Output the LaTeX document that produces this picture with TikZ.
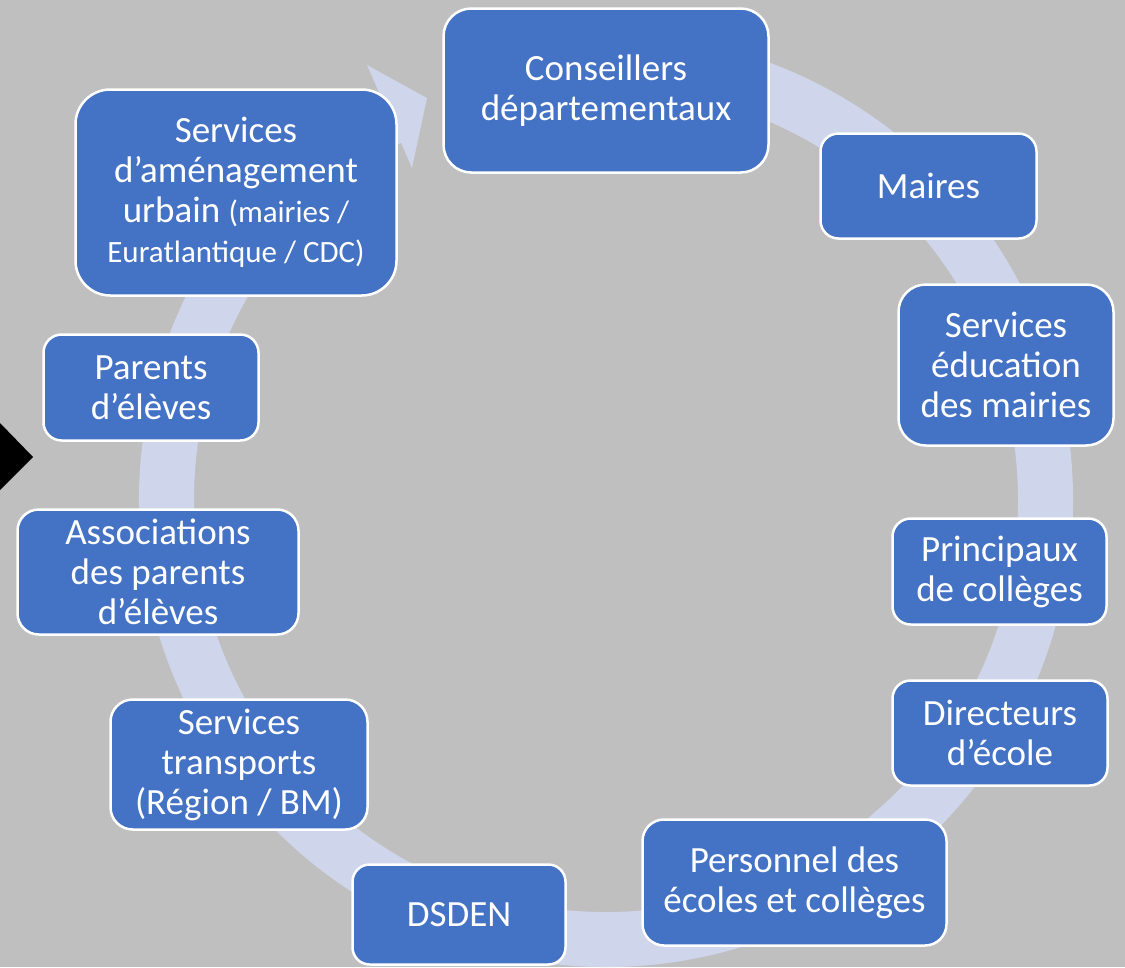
\documentclass[tikz,border=0pt]{standalone}
\usepackage{fontspec}
\setmainfont{Carlito}
\definecolor{bg}{RGB}{191,191,191}
\definecolor{ring}{RGB}{207,213,234}
\definecolor{boxblue}{HTML}{4472C4}
\tikzset{
  box/.style={draw=white, line width=2.5pt, fill=boxblue, text=white, align=center,
    font=\fontsize{37}{40}\selectfont, inner sep=0pt},
  ringfill/.style={fill=ring, draw=none},
}
\newcommand{\smalltxt}{\fontsize{31}{40}\selectfont}
\begin{document}
\begin{tikzpicture}[x=1pt,y=-1pt]
\useasboundingbox (0,0) rectangle (1125,967);
\fill[bg] (0,0) rectangle (1125,967);
% circular arrow
\coordinate (c) at (606,500);
\fill[ring] (c) ++(-118.5:467) arc[start angle=-118.5, end angle=-455, radius=467]
  -- ++(-275:55) arc[start angle=-455, end angle=-118.5, radius=412] -- cycle;
\coordinate (hout) at (367,65);
\coordinate (htip) at (427,98);
\coordinate (hin) at (412,168);
\fill[ring] (hout) -- (htip) -- (hin) -- cycle;
% boxes
\node[box, minimum width=325, minimum height=164, rounded corners=27.8] (cons) at (606,90.5) {Conseillers\\départementaux};
\node[box, minimum width=216, minimum height=105, rounded corners=18] (maires) at (928.5,186) {Maires};
\node[box, minimum width=215, minimum height=161, rounded corners=27.3] (educ) at (1006,365) {Services\\éducation\\des mairies};
\node[box, minimum width=214, minimum height=106, rounded corners=18.2] (princ) at (999.5,571.5) {Principaux\\de collèges};
\node[box, minimum width=215, minimum height=105, rounded corners=18] (dir) at (1000,733) {Directeurs\\d’école};
\node[box, minimum width=304, minimum height=126, rounded corners=21.5] (pers) at (794.5,882.5) {Personnel des\\écoles et collèges};
\node[box, minimum width=213, minimum height=100, rounded corners=17.2] (dsden) at (459,914.5) {DSDEN};
\node[box, minimum width=257, minimum height=130, rounded corners=22.2] (transp) at (239,764.5) {Services\\transports\\(Région / BM)};
\node[box, minimum width=281, minimum height=125, rounded corners=21.3] (assoc) at (158,572) {Associations\\des parents\\d’élèves};
\node[box, minimum width=215, minimum height=106, rounded corners=18.2] (parents) at (151,387.5) {Parents\\d’élèves};
\node[box, minimum width=321, minimum height=206, rounded corners=34.8] (amen) at (236,192.5) {Services\\d’aménagement\\urbain {\smalltxt (mairies /}\\{\smalltxt Euratlantique / CDC)}};
% black marker at left edge
\fill[black] (0,423) -- (33,457) -- (0,490) -- cycle;
\end{tikzpicture}
\end{document}
